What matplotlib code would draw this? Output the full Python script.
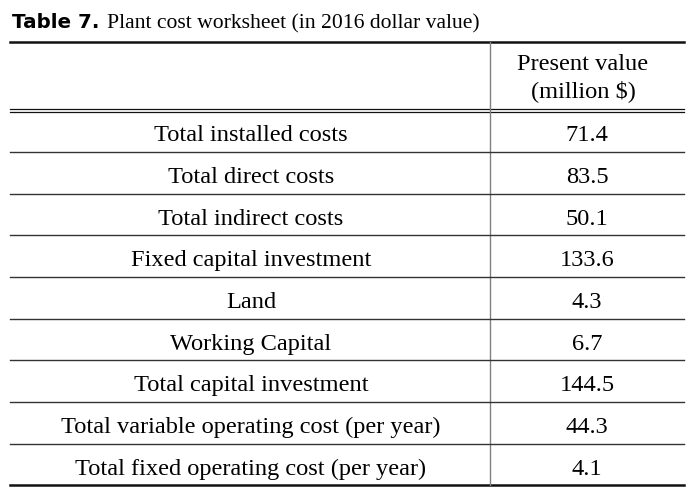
import matplotlib
matplotlib.use('Agg')
import matplotlib.pyplot as plt

items = ['Total installed costs', 'Total direct costs', 'Total indirect costs',
         'Fixed capital investment', 'Land', 'Working Capital',
         'Total capital investment', 'Total variable operating cost (per year)',
         'Total fixed operating cost (per year)']
values = [71.4, 83.5, 50.1, 133.6, 4.3, 6.7, 144.5, 44.3, 4.1]
header = ['Present value', '(million $)']

serif = 'Liberation Serif'
fs = 17.6

fig = plt.figure(figsize=(6.94, 4.88), dpi=100)
fig.set_facecolor('white')
ax = fig.add_axes([0, 0, 1, 1])
ax.set_xlim(0, 694)
ax.set_ylim(488, 0)
ax.axis('off')

# title: bold sans label followed by serif caption
t1 = ax.text(12, 28, 'Table 7.', fontsize=14.3, fontweight='bold', family='DejaVu Sans',
             va='baseline', ha='left')
fig.canvas.draw()
bb = t1.get_window_extent()
x_end = ax.transData.inverted().transform((bb.x1, bb.y0))[0]
ax.text(x_end + 8, 28, 'Plant cost worksheet (in 2016 dollar value)', fontsize=15.6,
        family=serif, va='baseline', ha='left')

left, right, split = 10, 684, 490
top = 41.5
row_top = 110.3
row_h = 41.67

ax.plot([left, right], [top, top], color='#111111', lw=1.8)
ax.plot([left, right], [row_top - 1.6, row_top - 1.6], color='#111111', lw=0.9)
ax.plot([left, right], [row_top + 1.6, row_top + 1.6], color='#111111', lw=0.9)

bottom = row_top + row_h * len(items)
ax.plot([left, right], [bottom, bottom], color='#111111', lw=1.8)
ax.plot([split, split], [top, bottom], color='#808080', lw=1.0)

col2 = (split + right) / 2
ax.text(col2 - 4, 70, header[0], fontsize=fs, family=serif, ha='center', va='baseline')
ax.text(col2 - 4, 97.5, header[1], fontsize=fs, family=serif, ha='center', va='baseline')

for i, (name, val) in enumerate(zip(items, values)):
    yb = row_top + row_h * i + 31
    ax.text(251, yb, name, fontsize=fs, family=serif, ha='center', va='baseline')
    ax.text(col2, yb, f'{val:.1f}', fontsize=fs, family=serif, ha='center', va='baseline')
    if i < len(items) - 1:
        ys = row_top + row_h * (i + 1)
        ax.plot([left, right], [ys, ys], color='#333333', lw=1.0)

fig.savefig('out.png', dpi=100)
